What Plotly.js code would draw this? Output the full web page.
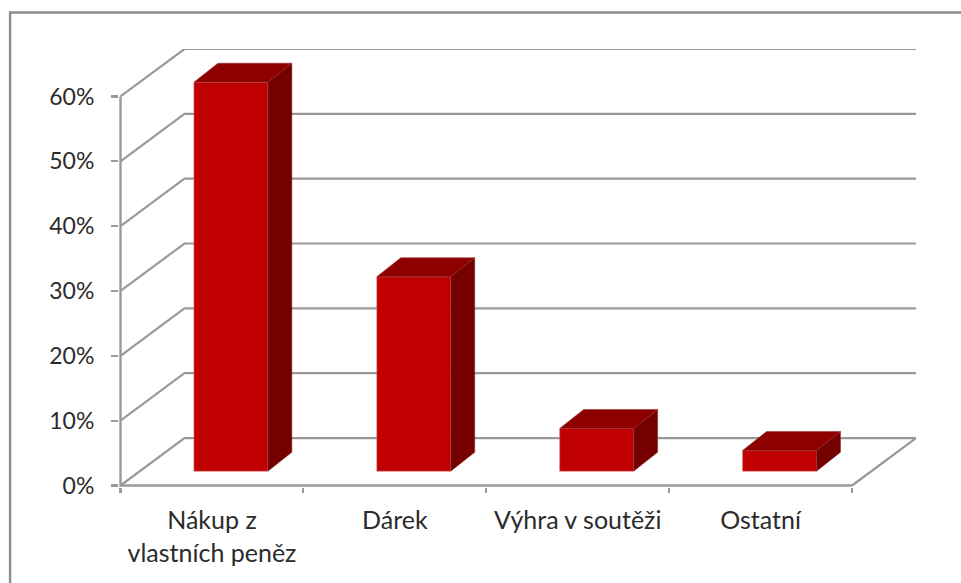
<!DOCTYPE html>
<html><head><meta charset="utf-8">
<script src="https://cdn.plot.ly/plotly-3.0.1.min.js"></script>
<style>html,body{margin:0;padding:0;background:#fff}#c{width:961px;height:583px}</style>
</head><body><div id="c"></div>
<script>
const categories = ['Nákup z<br>vlastních peněz', 'Dárek', 'Výhra v soutěži', 'Ostatní'];
const shares = [60, 30, 6.6, 3.2];
const percentTicks = [0, 10, 20, 30, 40, 50, 60];
const tickLabels = ['0%', '10%', '20%', '30%', '40%', '50%', '60%'];

// Oblique projection, in axis units
const W = 961, H = 583, L = 118.5, R = 45, T = 49.1, B = 95.5;
const pxX = 183, pxY = 6.49, pad = 1.5;
const depthX = 64 / pxX, depthY = 47.5 / pxY;
const nCat = categories.length;
const barW = 74 / pxX;
const front = 14.3 / 47.5;          // bar front position on floor
const plotW = W - L - R, plotH = H - T - B;
const gridCol = '#9a9a9a';

const centers = categories.map((_, i) => i + 0.5);
const barX = centers.map(c => c + depthX * front - 0.3 / pxX);
const baseY = depthY * front;
const sdx = 24 / pxX, sdy = 19 / pxY;

const traces = [];
traces.push({
  type: 'bar', x: barX, y: shares, base: shares.map(() => baseY), width: barW,
  marker: {color: '#C00000', line: {color: '#D9777A', width: 0.6}}, hoverinfo: 'skip', xaxis: 'x', yaxis: 'y'
});
shares.forEach((v, i) => {
  const l = barX[i] - barW / 2, r = barX[i] + barW / 2, b = baseY, t = baseY + v;
  traces.push({type: 'scatter', mode: 'lines', fill: 'toself', fillcolor: '#750000',
    x: [r, r + sdx, r + sdx, r, r], y: [b, b + sdy, t + sdy, t, b],
    line: {color: '#8E2A2A', width: 0.5}, hoverinfo: 'skip'});
  traces.push({type: 'scatter', mode: 'lines', fill: 'toself', fillcolor: '#8E0000',
    x: [l, l + sdx, r + sdx, r, l], y: [t, t + sdy, t + sdy, t, t],
    line: {color: '#8E2A2A', width: 0.5}, hoverinfo: 'skip'});
});
// Front axis lines (carry the category boundary ticks)
traces.push({type: 'scatter', mode: 'lines', x: [0, 0, nCat], y: [percentTicks[percentTicks.length - 1], 0, 0],
  line: {color: gridCol, width: 2.4}, xaxis: 'x2', yaxis: 'y', hoverinfo: 'skip'});

const shapes = [];
percentTicks.forEach(v => {
  const path = [[0, v], [depthX, v + depthY], [nCat + depthX, v + depthY]];
  if (v === 0) path.push([nCat, 0]);
  shapes.push({type: 'path', layer: 'below', xref: 'x', yref: 'y',
    path: path.map((p, i) => (i ? 'L' : 'M') + p[0] + ',' + p[1]).join(' '),
    line: {color: gridCol, width: 2.2}});
});
// Outer picture frame
const fx = p => (p - L) / plotW, fy = p => (H - B - p) / plotH;
shapes.push({type: 'path', xref: 'paper', yref: 'paper',
  path: `M${fx(9.5)},${fy(590)} L${fx(9.5)},${fy(12.5)} L${fx(970)},${fy(12.5)}`,
  line: {color: '#8c8c8c', width: 2.4}});

const yFont = {family: 'Lato, Carlito, sans-serif', size: 23, color: '#2b2b2b'};
const xFont = {family: 'Lato, Carlito, sans-serif', size: 25, color: '#2b2b2b'};
const xRange = [-pad / pxX, nCat + depthX], yRange = [-pad / pxY, 60 + depthY];
Plotly.newPlot('c', traces, {
  width: W, height: H, autosize: false, showlegend: false,
  margin: {l: L, r: R, t: T, b: B, pad: 0},
  paper_bgcolor: '#fff', plot_bgcolor: 'rgba(0,0,0,0)', font: xFont,
  barmode: 'overlay', hovermode: false, shapes,
  xaxis: {range: xRange, tickmode: 'array', tickvals: centers, ticktext: categories, ticks: '', ticklen: 0,
    showgrid: false, zeroline: false, showline: false, tickfont: xFont, tickangle: 0, automargin: false,
    ticklabelstandoff: 16},
  xaxis2: {range: xRange, overlaying: 'x', anchor: 'y', side: 'bottom', tickmode: 'array',
    tickvals: categories.map((_, i) => i).concat([nCat]), ticks: 'outside', ticklen: 5, tickwidth: 2.2, tickcolor: gridCol,
    showticklabels: false, showgrid: false, zeroline: false, showline: false},
  yaxis: {range: yRange, tickmode: 'array', tickvals: percentTicks, ticktext: tickLabels, ticks: 'outside', ticklen: 7,
    tickwidth: 2.2, tickcolor: gridCol, showgrid: false, zeroline: false, showline: false, tickfont: yFont,
    ticklabelstandoff: 12, automargin: false}
}, {staticPlot: true, displayModeBar: false});
</script></body></html>
